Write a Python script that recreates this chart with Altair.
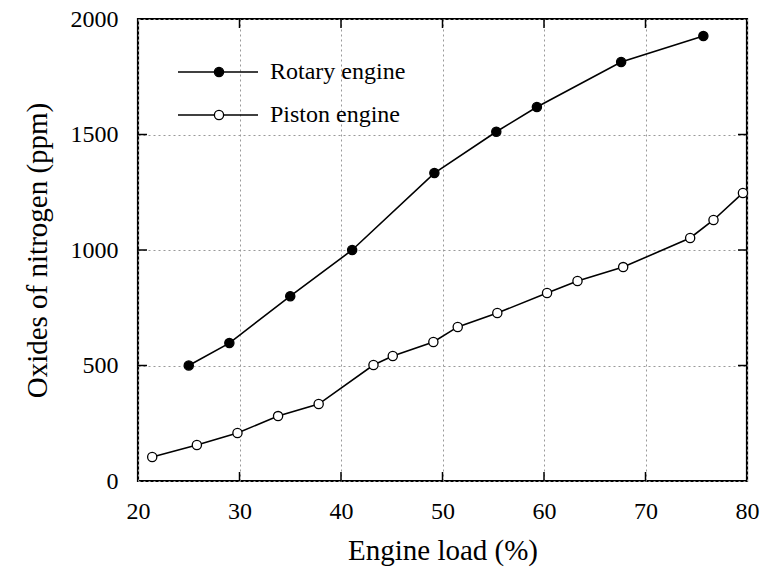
import altair as alt
import pandas as pd

rotary_load = [25.0, 29.0, 35.0, 41.1, 49.2, 55.3, 59.3, 67.6, 75.7]
rotary_nox = [500, 597, 800, 1000, 1333, 1512, 1619, 1814, 1926]

piston_load = [21.4, 25.8, 29.8, 33.8, 37.8, 43.2, 45.1, 49.1, 51.5, 55.4,
               60.3, 63.3, 67.8, 74.4, 76.7, 79.6]
piston_nox = [104, 156, 208, 281, 333, 502, 541, 602, 667, 727,
              814, 866, 926, 1052, 1130, 1247]

series_names = ["Rotary engine", "Piston engine"]
x_ticks = [20, 30, 40, 50, 60, 70, 80]
y_ticks = [0, 500, 1000, 1500, 2000]
x_inner = [30, 40, 50, 60, 70]
y_inner = [500, 1000, 1500]

W, H = 609, 462
FONT = "Liberation Serif, Times New Roman, DejaVu Serif, serif"

df = pd.concat([
    pd.DataFrame({"load": rotary_load, "nox": rotary_nox, "series": series_names[0]}),
    pd.DataFrame({"load": piston_load, "nox": piston_nox, "series": series_names[1]}),
])

xs = alt.Scale(domain=[20, 80], nice=False, zero=False)
ys = alt.Scale(domain=[0, 2000], nice=False)
fill_scale = alt.Scale(domain=series_names, range=["black", "white"])

xaxis = alt.Axis(values=x_ticks, title="Engine load (%)", labelFlush=False, format="d",
                 grid=True, gridDash=[2, 3], gridColor="#999", gridWidth=1,
                 domain=False, ticks=False, labelPadding=18, titlePadding=13,
                 labelFontSize=24, titleFontSize=29, labelFont=FONT, titleFont=FONT,
                 labelColor="black", titleColor="black", titleFontWeight="normal")
yaxis = alt.Axis(values=y_ticks, title="Oxides of nitrogen (ppm)", labelFlush=False, format="d",
                 grid=True, gridDash=[2, 3], gridColor="#999", gridWidth=1,
                 domain=False, ticks=False, labelPadding=20, titlePadding=18,
                 labelFontSize=24, titleFontSize=29, labelFont=FONT, titleFont=FONT,
                 labelColor="black", titleColor="black", titleFontWeight="normal")

base = alt.Chart(df)
lines = base.mark_line(color="black", strokeWidth=1.6).encode(
    x=alt.X("load:Q", scale=xs, axis=xaxis),
    y=alt.Y("nox:Q", scale=ys, axis=yaxis),
    detail="series:N",
)
points = base.mark_point(filled=True, size=85, stroke="black", strokeWidth=1.3, opacity=1).encode(
    x=alt.X("load:Q", scale=xs),
    y=alt.Y("nox:Q", scale=ys),
    fill=alt.Fill("series:N", scale=fill_scale, legend=None),
)

xt = pd.DataFrame({"v": x_inner})
yt = pd.DataFrame({"v": y_inner})
tick_x_bottom = alt.Chart(xt).mark_rule(color="black", strokeWidth=1.5).encode(
    x=alt.X("v:Q", scale=xs), y=alt.value(H - 9), y2=alt.value(H))
tick_x_top = alt.Chart(xt).mark_rule(color="black", strokeWidth=1.5).encode(
    x=alt.X("v:Q", scale=xs), y=alt.value(0), y2=alt.value(9))
tick_y_left = alt.Chart(yt).mark_rule(color="black", strokeWidth=1.5).encode(
    y=alt.Y("v:Q", scale=ys), x=alt.value(0), x2=alt.value(9))
tick_y_right = alt.Chart(yt).mark_rule(color="black", strokeWidth=1.5).encode(
    y=alt.Y("v:Q", scale=ys), x=alt.value(W - 9), x2=alt.value(W))

leg = pd.DataFrame({"series": series_names})
leg_y = alt.Y("series:N", scale=alt.Scale(domain=series_names, range=[31.5, 117.5]),
              axis=None)
leg_rule = alt.Chart(leg).mark_rule(color="black", strokeWidth=1.6).encode(
    y=leg_y, x=alt.value(40), x2=alt.value(120))
leg_pt = alt.Chart(leg).mark_point(filled=True, size=85, stroke="black", strokeWidth=1.3, opacity=1).encode(
    y=leg_y, x=alt.value(81),
    fill=alt.Fill("series:N", scale=fill_scale, legend=None))
leg_txt = alt.Chart(leg).mark_text(align="left", baseline="middle", font=FONT, fontSize=24,
                                   color="black").encode(
    y=leg_y, x=alt.value(132), text="series:N")
legend = alt.layer(leg_rule, leg_pt, leg_txt)

main = alt.layer(lines, points, tick_x_bottom, tick_x_top, tick_y_left, tick_y_right)

chart = alt.layer(main, legend).resolve_scale(y="independent").properties(
    width=W, height=H,
    autosize=alt.AutoSizeParams(type="none"),
    padding={"left": 138, "top": 19, "right": 17, "bottom": 94},
    background="white",
).configure_view(stroke="black", strokeWidth=2.2)

chart.save("out.html", embed_options={"renderer": "svg", "actions": False})
